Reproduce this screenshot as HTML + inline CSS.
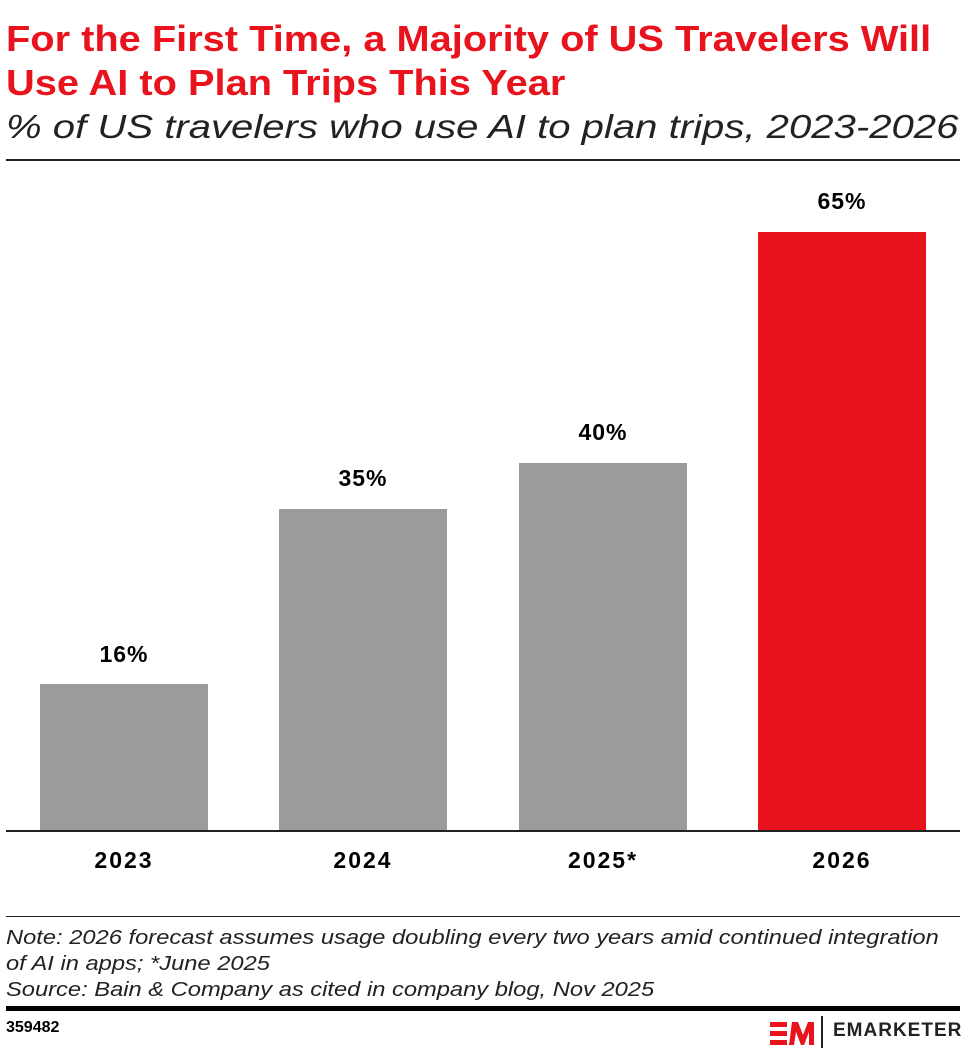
<!DOCTYPE html>
<html><head><style>
body{margin:0;width:966px;height:1054px;background:#fff;position:relative;font-family:"Liberation Sans",sans-serif;overflow:hidden}
.a{position:absolute;white-space:nowrap;transform-origin:0 0}
.t{left:6px;color:#e8131d;font-weight:bold;font-size:36px;line-height:44px;transform:scaleX(1.105)}
.bar{position:absolute;background:#9b9b9b}
.v{position:absolute;width:168px;text-align:center;font-weight:bold;font-size:23px;letter-spacing:1px}
.x{position:absolute;width:168px;text-align:center;font-weight:bold;font-size:23px;letter-spacing:2px;top:847px}
.n{left:6px;font-style:italic;font-size:20px;color:#222;transform:scaleX(1.185)}
</style></head><body>
<div class="a t" style="top:17px">For the First Time, a Majority of US Travelers Will<br>Use AI to Plan Trips This Year</div>
<div class="a" style="left:6px;top:108px;font-style:italic;font-size:33px;color:#222;transform:scaleX(1.215)">% of US travelers who use AI to plan trips, 2023-2026</div>
<div class="a" style="left:6px;top:159px;width:954px;height:2px;background:#222"></div>

<div class="bar" style="left:40px;top:684px;width:168px;height:147px"></div>
<div class="bar" style="left:279px;top:509px;width:168px;height:322px"></div>
<div class="bar" style="left:519px;top:463px;width:168px;height:368px"></div>
<div class="bar" style="left:758px;top:232px;width:168px;height:599px;background:#e8131d"></div>
<div class="v" style="left:40px;top:641px">16%</div>
<div class="v" style="left:279px;top:465px">35%</div>
<div class="v" style="left:519px;top:419px">40%</div>
<div class="v" style="left:758px;top:188px">65%</div>
<div class="a" style="left:6px;top:830px;width:954px;height:2px;background:#222"></div>
<div class="x" style="left:40px">2023</div>
<div class="x" style="left:279px">2024</div>
<div class="x" style="left:519px">2025*</div>
<div class="x" style="left:758px">2026</div>

<div class="a" style="left:6px;top:916px;width:954px;height:1px;background:#222"></div>
<div class="a n" style="top:925px;line-height:26px">Note: 2026 forecast assumes usage doubling every two years amid continued integration<br>of AI in apps; *June 2025<br>Source: Bain &amp; Company as cited in company blog, Nov 2025</div>
<div class="a" style="left:6px;top:1006px;width:954px;height:5px;background:#000"></div>
<div class="a" style="left:6px;top:1019px;font-size:16px;font-weight:bold">359482</div>
<svg class="a" style="left:768px;top:1018px" width="50" height="30" viewBox="0 0 50 30">
<g fill="#e8131d"><rect x="2" y="4" width="17" height="5"/><rect x="2" y="13" width="17" height="5"/><rect x="2" y="22" width="17" height="5"/>
<polygon points="21,27 24,4 30,4 35,17 40,4 46,4 46,27 41,27 41,14 36,27 33,27 28,14 26,27"/></g></svg>
<div class="a" style="left:821px;top:1016px;width:2px;height:32px;background:#222"></div>
<div class="a" style="left:833px;top:1020px;font-size:19px;font-weight:bold;letter-spacing:1px;color:#222">EMARKETER</div>
</body></html>
